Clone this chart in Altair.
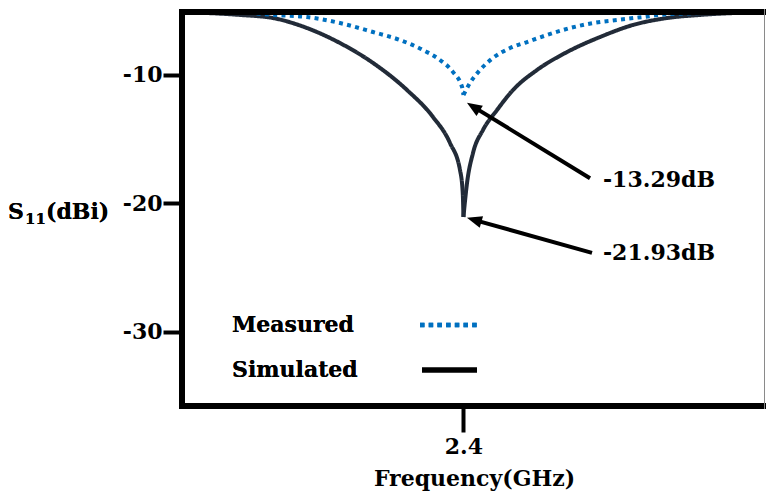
import altair as alt
import pandas as pd

FONT = "DejaVu Serif"

# ---- data (frequency in GHz, S11 in dB) ----
sim_left_freq = [2.000, 2.0824, 2.1293, 2.1777, 2.2246, 2.2715, 2.3198, 2.3567, 2.3809, 2.3951, 2.3990, 2.400]
sim_left_db = [-5.10, -5.33, -5.57, -6.35, -7.52, -9.07, -11.18, -13.28, -15.31, -17.41, -19.20, -21.07]
sim_right_freq = [2.400, 2.4051, 2.4136, 2.4278, 2.4477, 2.4704, 2.5045, 2.5472, 2.5941, 2.6410, 2.6893, 2.7362, 2.830]
sim_right_db = [-21.07, -18.42, -16.08, -14.29, -12.74, -11.18, -9.62, -8.22, -7.05, -6.11, -5.57, -5.33, -5.10]

meas_left_freq = [2.000, 2.0966, 2.1293, 2.1777, 2.2246, 2.2715, 2.3098, 2.3425, 2.3667, 2.3852, 2.3980, 2.400]
meas_left_db = [-5.10, -5.18, -5.33, -5.49, -5.96, -6.66, -7.28, -8.06, -8.84, -9.78, -10.94, -11.57]
meas_right_freq = [2.400, 2.4093, 2.4235, 2.4420, 2.4662, 2.4903, 2.5188, 2.5514, 2.5841, 2.6182, 2.6552, 2.6936, 2.830]
meas_right_db = [-11.57, -10.63, -9.62, -8.68, -7.91, -7.44, -6.89, -6.35, -5.96, -5.72, -5.49, -5.26, -5.10]

series_names = ["Measured", "Simulated"]
series_colors = ["#0070C0", "#222B38"]

# annotations
ann_text = ["-13.29dB", "-21.93dB"]
ann_text_freq = [2.5983, 2.5983]
ann_text_db = [-18.19, -23.87]
ann_tail_freq = [2.5799, 2.5827]
ann_tail_db = [-18.05, -23.87]
ann_tip_freq = [2.405, 2.405]
ann_tip_db = [-12.18, -21.14]
ann_head_angle = [302, 286]

x_ticks = [2.4]
y_ticks = [-10, -20, -30]
x_domain = [2.0, 2.83]
y_domain = [-35.8, -5.1]

W, H = 584, 394

rows = []
for name, fr, db in [
    ("Simulated-L", sim_left_freq, sim_left_db),
    ("Simulated-R", sim_right_freq, sim_right_db),
    ("Measured-L", meas_left_freq, meas_left_db),
    ("Measured-R", meas_right_freq, meas_right_db),
]:
    for f, d in zip(fr, db):
        rows.append({"freq": f, "db": d, "series": name.split("-")[0], "branch": name})
df = pd.DataFrame(rows)

frac = 0.07
ann = pd.DataFrame({
    "text": ann_text,
    "tfreq": ann_text_freq,
    "tdb": ann_text_db,
    "afreq": ann_tail_freq,
    "adb": ann_tail_db,
    "pfreq": ann_tip_freq,
    "pdb": ann_tip_db,
    "bfreq": [p + frac * (a - p) for p, a in zip(ann_tip_freq, ann_tail_freq)],
    "bdb": [p + frac * (a - p) for p, a in zip(ann_tip_db, ann_tail_db)],
    "angle": ann_head_angle,
})

xscale = alt.Scale(domain=x_domain, nice=False, zero=False)
yscale = alt.Scale(domain=y_domain, nice=False, zero=False)

xaxis = alt.Axis(values=x_ticks, format=".1f", title="Frequency(GHz)", domain=False, grid=False,
                 tickSize=26, tickWidth=4, tickColor="black",
                 labelFont=FONT, labelFontSize=22, labelFontWeight="bold", labelColor="black",
                 labelPadding=4, titleFont=FONT, titleFontSize=22, titleFontWeight="bold",
                 titleColor="black", titlePadding=11)
yaxis = alt.Axis(values=y_ticks, labelExpr="'' + datum.value", title=None, domain=False, grid=False,
                 tickSize=19, tickWidth=4, tickColor="black",
                 labelFont=FONT, labelFontSize=22, labelFontWeight="bold", labelColor="black",
                 labelPadding=1)

lines = alt.Chart(df).mark_line(strokeWidth=4, strokeCap="butt", interpolate="monotone").encode(
    x=alt.X("freq:Q", scale=xscale, axis=xaxis),
    y=alt.Y("db:Q", scale=yscale, axis=yaxis),
    color=alt.Color("series:N", scale=alt.Scale(domain=series_names, range=series_colors), legend=None),
    strokeDash=alt.StrokeDash("series:N", scale=alt.Scale(domain=series_names, range=[[4, 4.3], [1, 0]]), legend=None),
    detail="branch:N",
)

arrow_lines = alt.Chart(ann).mark_rule(strokeWidth=4, color="black", strokeCap="butt").encode(
    x="afreq:Q", y="adb:Q", x2="bfreq:Q", y2="bdb:Q")

arrow_heads = alt.Chart(ann).mark_point(filled=True, color="black", opacity=1, size=225,
                                        shape="M0,0L-0.8,2L0.8,2Z").encode(
    x="pfreq:Q", y="pdb:Q", angle=alt.Angle("angle:Q", scale=None))

ann_labels = alt.Chart(ann).mark_text(font=FONT, fontSize=22, fontWeight="bold", color="black",
                                      align="left", baseline="middle").encode(
    x="tfreq:Q", y="tdb:Q", text="text:N")

# legend drawn inside the plot
leg = pd.DataFrame({"series": series_names})
TXT = dict(font=FONT, fontWeight="bold", color="black", align="left", baseline="middle")
leg_text_m = alt.Chart(leg).mark_text(fontSize=22, text=series_names[0], **TXT).encode(
    x=alt.value(50), y=alt.value(313))
leg_text_s = alt.Chart(leg).mark_text(fontSize=22, text=series_names[1], **TXT).encode(
    x=alt.value(50), y=alt.value(358))
leg_meas = alt.Chart(leg).mark_rule(strokeWidth=4.5, color=series_colors[0], strokeDash=[4.5, 4.2],
                                    strokeCap="butt").encode(
    x=alt.value(238), x2=alt.value(295), y=alt.value(313))
leg_sim = alt.Chart(leg).mark_rule(strokeWidth=5, color="black", strokeCap="butt").encode(
    x=alt.value(240), x2=alt.value(295), y=alt.value(358))

# y-axis title with subscript
yt_s = alt.Chart(leg).mark_text(fontSize=22, text="S", **TXT).encode(
    x=alt.value(-174), y=alt.value(200))
yt_sub = alt.Chart(leg).mark_text(fontSize=15, text="11", **TXT).encode(
    x=alt.value(-157), y=alt.value(207))
yt_rest = alt.Chart(leg).mark_text(fontSize=22, text="(dBi)", **TXT).encode(
    x=alt.value(-136), y=alt.value(200))

# frame
frame_left = alt.Chart(leg).mark_rule(strokeWidth=6, color="black").encode(
    x=alt.value(0), y=alt.value(-3), y2=alt.value(H + 3))
frame_top = alt.Chart(leg).mark_rule(strokeWidth=6, color="black").encode(
    y=alt.value(0), x=alt.value(-3), x2=alt.value(W))
frame_bottom = alt.Chart(leg).mark_rule(strokeWidth=6, color="black").encode(
    y=alt.value(H), x=alt.value(-3), x2=alt.value(W))
frame_right = alt.Chart(leg).mark_rule(strokeWidth=1, color="#8a8a8a").encode(
    x=alt.value(W - 1.5), y=alt.value(-3), y2=alt.value(H + 3))

chart = alt.layer(
    lines, arrow_lines, arrow_heads, ann_labels,
    leg_text_m, leg_text_s, leg_meas, leg_sim, yt_s, yt_sub, yt_rest,
    frame_left, frame_top, frame_bottom, frame_right,
).properties(
    width=W, height=H,
    autosize=alt.AutoSizeParams(type="none"),
    padding={"left": 182, "top": 12, "right": 0, "bottom": 86},
).configure_view(stroke=None).configure(background="white")

chart.save("out.html", embed_options={"renderer": "svg", "actions": False})
